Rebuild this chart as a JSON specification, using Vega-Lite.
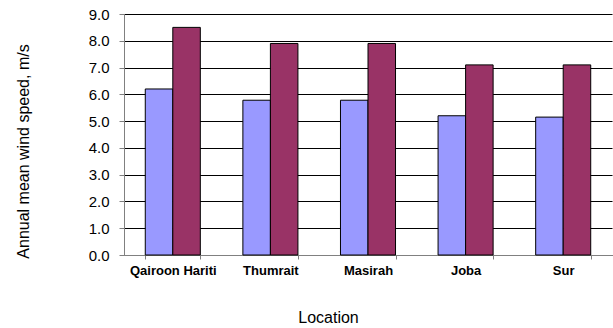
{
  "$schema": "https://vega.github.io/schema/vega-lite/v6.json",
  "autosize": {"type": "none"},
  "width": 488,
  "height": 241,
  "padding": {"left": 124, "top": 14, "right": 1, "bottom": 73},
  "background": "white",
  "config": {
    "view": {"stroke": null},
    "font": "Liberation Sans"
  },
  "data": {
    "values": [
      {"location": "Qairoon Hariti", "series": "A", "speed": 6.2},
      {"location": "Qairoon Hariti", "series": "B", "speed": 8.5},
      {"location": "Thumrait", "series": "A", "speed": 5.78},
      {"location": "Thumrait", "series": "B", "speed": 7.9},
      {"location": "Masirah", "series": "A", "speed": 5.78},
      {"location": "Masirah", "series": "B", "speed": 7.9},
      {"location": "Joba", "series": "A", "speed": 5.2},
      {"location": "Joba", "series": "B", "speed": 7.1},
      {"location": "Sur", "series": "A", "speed": 5.15},
      {"location": "Sur", "series": "B", "speed": 7.1}
    ]
  },
  "mark": {"type": "bar", "stroke": "black", "strokeWidth": 1},
  "encoding": {
    "x": {
      "field": "location",
      "type": "nominal",
      "sort": ["Qairoon Hariti", "Thumrait", "Masirah", "Joba", "Sur"],
      "scale": {"paddingInner": 0.436, "paddingOuter": 0.218},
      "axis": {
        "title": "Location",
        "titleFont": "Liberation Sans",
        "titleFontSize": 16,
        "titleFontWeight": "normal",
        "titleColor": "black",
        "titleX": 204,
        "titleY": 62,
        "titleAlign": "center",
        "titleBaseline": "middle",
        "labelAngle": 0,
        "labelFont": "Liberation Sans",
        "labelFontSize": 13,
        "labelFontWeight": "bold",
        "labelColor": "black",
        "labelPadding": 5,
        "tickBand": "extent",
        "tickSize": 4,
        "tickColor": "#808080",
        "domainColor": "#808080",
        "grid": false
      }
    },
    "xOffset": {"field": "series", "type": "nominal", "scale": {"paddingInner": 0, "paddingOuter": 0}},
    "y": {
      "field": "speed",
      "type": "quantitative",
      "scale": {"domain": [0, 9], "nice": false},
      "axis": {
        "title": "Annual mean wind speed, m/s",
        "titleFont": "Liberation Sans",
        "titleFontSize": 16,
        "titleFontWeight": "normal",
        "titleColor": "black",
        "titleAngle": 270,
        "titleX": -101,
        "titleY": 137,
        "titleAlign": "center",
        "titleBaseline": "middle",
        "values": [0, 1, 2, 3, 4, 5, 6, 7, 8, 9],
        "format": ".1f",
        "labelFont": "Liberation Sans",
        "labelFontSize": 15,
        "labelColor": "black",
        "labelPadding": 10,
        "tickSize": 5,
        "tickColor": "#808080",
        "domainColor": "#808080",
        "grid": true,
        "gridColor": "black",
        "gridWidth": 1,
        "gridOpacity": 1
      }
    },
    "color": {
      "field": "series",
      "type": "nominal",
      "scale": {"domain": ["A", "B"], "range": ["#9999FF", "#993366"]},
      "legend": null
    }
  }
}
